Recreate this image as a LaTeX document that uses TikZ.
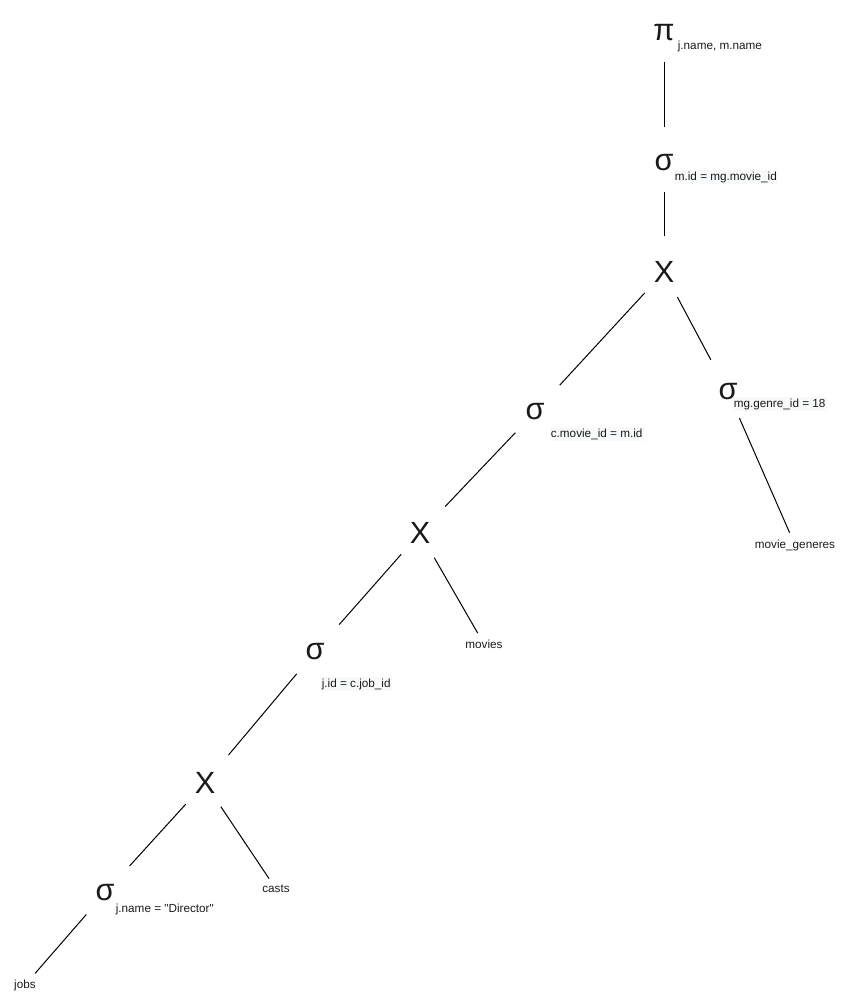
\documentclass[tikz,border=0pt]{standalone}
\usepackage{fontspec}
\setmainfont{Liberation Sans}
\definecolor{subbg}{RGB}{248,249,250}
\definecolor{ink}{RGB}{26,26,26}

\begin{document}
\begin{tikzpicture}[x=0.75pt,y=-0.75pt,line width=0.75pt,shorten >=6pt,
                    op node/.style={circle,inner sep=0pt,minimum size=42pt,text=ink,font=\fontsize{23}{23}\selectfont},
                    sub node/.style={anchor=west,inner xsep=1pt,inner ysep=1.5pt,text=ink,font=\fontsize{8.8}{10}\selectfont},
                    shaded/.style={fill=subbg},
                    leaf node/.style={inner sep=2pt,text=ink,font=\fontsize{8.8}{10}\selectfont}]

  \useasboundingbox (0,0) rectangle (851,1001);

  \node[op node] (proj) at (664,33) {π};
  \node[op node] (selA) at (664,163) {σ};
  \node[op node] (crossA) at (664,272) {X};
  \node[op node] (selB) at (535,412) {σ};
  \node[op node] (selG) at (728,392) {σ};
  \node[op node] (crossB) at (420,533) {X};
  \node[op node] (selC) at (315,652) {σ};
  \node[op node] (crossC) at (205,783) {X};
  \node[op node] (selD) at (105,893) {σ};

  \node[sub node] (projsub) at (676,46) {j.name, m.name};
  \node[sub node,shaded] (selAsub) at (673,177) {m.id = mg.movie\_id};
  \node[sub node,shaded] (selBsub) at (549,434) {c.movie\_id = m.id};
  \node[sub node,shaded] (selGsub) at (732,404) {mg.genre\_id = 18};
  \node[sub node,shaded] (selCsub) at (320,684) {j.id = c.job\_id};
  \node[sub node] (selDsub) at (114,909) {j.name = \textquotedbl Director\textquotedbl};

  \node[leaf node] (genres) at (795,545) {movie\_generes};
  \node[leaf node] (movies) at (484,644) {movies};
  \node[leaf node] (casts) at (276,889) {casts};
  \node[leaf node] (jobs) at (25,985) {jobs};

  \path
    (proj) edge (selA)
    (selA) edge (crossA)
    (crossA) edge (selB)
             edge (selG)
    (selG) edge[shorten >=3pt] (genres)
    (selB) edge (crossB)
    (crossB) edge (selC)
             edge[shorten >=3pt] (movies)
    (selC) edge (crossC)
    (crossC) edge (selD)
             edge[shorten >=3pt] (casts)
    (selD) edge[shorten >=3pt] (jobs);
\end{tikzpicture}
\end{document}
